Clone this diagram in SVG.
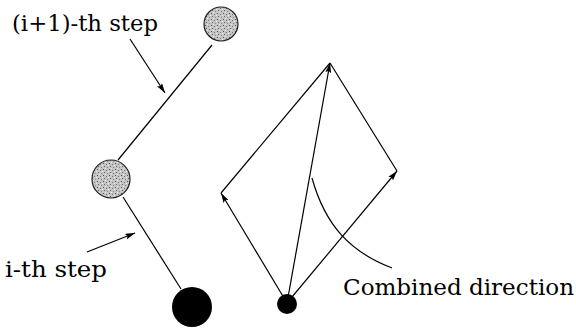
<svg xmlns="http://www.w3.org/2000/svg" width="576" height="330" viewBox="0 0 576 330">
<defs>
<pattern id="stip" width="6" height="6" patternUnits="userSpaceOnUse">
<rect width="6" height="6" fill="#c4c4c4"/>
<rect x="1" y="1" width="1" height="1" fill="#555"/>
<rect x="4" y="2" width="1" height="1" fill="#777"/>
<rect x="2" y="4" width="1" height="1" fill="#666"/>
<rect x="5" y="5" width="1" height="1" fill="#888"/>
<rect x="3" y="0" width="1" height="1" fill="#eee"/>
<rect x="0" y="3" width="1" height="1" fill="#f2f2f2"/>
</pattern>
<marker id="ah" viewBox="0 0 10 6" refX="10" refY="3" markerWidth="10" markerHeight="6" markerUnits="userSpaceOnUse" orient="auto">
<path d="M0,0 L10,3 L0,6 L2,3 Z" fill="#000"/>
</marker>
</defs>
<style>
.ln{stroke:#000;stroke-width:1.2;fill:none}
.lbl{font-family:"DejaVu Serif","Liberation Serif",serif;font-size:23px;fill:#000}
.ball{fill:url(#stip);stroke:#222;stroke-width:1.2}
</style>
<g id="connectors">
<line class="ln" x1="212" y1="45" x2="118" y2="160"/>
<line class="ln" x1="123" y1="197" x2="181" y2="289"/>
<line class="ln" x1="130" y1="39" x2="165" y2="93" marker-end="url(#ah)"/>
<line class="ln" x1="87" y1="252" x2="135" y2="233" marker-end="url(#ah)"/>
<line class="ln" x1="287" y1="303" x2="221" y2="193" marker-end="url(#ah)"/>
<line class="ln" x1="287" y1="303" x2="397" y2="171" marker-end="url(#ah)"/>
<line class="ln" x1="287" y1="303" x2="330" y2="63" marker-end="url(#ah)"/>
<line class="ln" x1="221" y1="193" x2="330" y2="63"/>
<line class="ln" x1="397" y1="171" x2="330" y2="63"/>
<path class="ln" d="M312,178 C325,225 350,252 392,268"/>
</g>
<g id="ball-top"><circle class="ball" cx="221" cy="24" r="17"/></g>
<g id="ball-mid"><circle class="ball" cx="111" cy="179" r="19"/></g>
<g id="ball-start"><circle cx="192" cy="307" r="20" fill="#000"/></g>
<g id="origin"><circle cx="287" cy="304" r="10" fill="#000"/></g>
<g id="label-i1"><text class="lbl" x="12" y="31" textLength="146" lengthAdjust="spacingAndGlyphs">(i+1)-th step</text></g>
<g id="label-i"><text class="lbl" x="5" y="277" textLength="102" lengthAdjust="spacingAndGlyphs">i-th step</text></g>
<g id="label-combined"><text class="lbl" x="343" y="295" textLength="231" lengthAdjust="spacingAndGlyphs">Combined direction</text></g>
</svg>
